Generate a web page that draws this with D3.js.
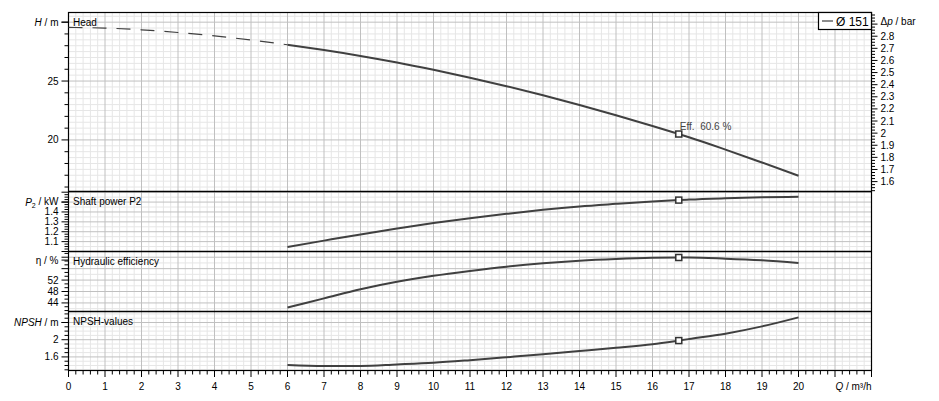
<!DOCTYPE html>
<html>
<head>
<meta charset="utf-8">
<script src="https://cdn.jsdelivr.net/npm/d3@7.9.0/dist/d3.min.js"></script>
<style>
  body { margin: 0; background: #fff; }
  svg { display: block; font-family: "Liberation Sans", Arial, sans-serif; }
  .pre { white-space: pre; }
</style>
</head>
<body>
<svg id="chart" width="939" height="401"></svg>
<script>
// duty point flow (m³/h)
const qDuty = 16.72;

// head curve below the operating range (dashed)
const flowExt = [0, 1, 2, 3, 4, 5, 6];
const headExt = [29.55, 29.5, 29.35, 29.12, 28.84, 28.48, 28.08];

// operating range
const flow  = [6, 7, 8, 9, 10, 11, 12, 13, 14, 15, 16, 16.72, 17, 18, 19, 20];
const head  = [28.08, 27.63, 27.13, 26.57, 25.95, 25.28, 24.56, 23.79, 22.97, 22.1, 21.18, 20.5, 20.23, 19.18, 18.08, 16.96];
const power = [1.046, 1.11, 1.173, 1.232, 1.288, 1.337, 1.381, 1.422, 1.456, 1.482, 1.506, 1.52, 1.525, 1.538, 1.548, 1.553];
const eff   = [42.4, 45.6, 48.8, 51.4, 53.5, 55.2, 56.7, 57.9, 58.8, 59.4, 59.8, 59.9, 59.9, 59.5, 58.9, 58.0];
const npsh  = [1.413, 1.39, 1.39, 1.425, 1.465, 1.525, 1.592, 1.661, 1.735, 1.811, 1.895, 1.98, 2.015, 2.14, 2.31, 2.52];

// tick labels
const qLabels     = [0, 1, 2, 3, 4, 5, 6, 7, 8, 9, 10, 11, 12, 13, 14, 15, 16, 17, 18, 19, 20];
const headLabels  = [20, 25];
const powerLabels = [1.1, 1.2, 1.3, 1.4];
const effLabels   = [44, 48, 52];
const npshLabels  = [1.6, 2];
const dpLabels    = [1.6, 1.7, 1.8, 1.9, 2, 2.1, 2.2, 2.3, 2.4, 2.5, 2.6, 2.7, 2.8];
const effNote = 'Eff.  60.6 %';
const legendText = 'Ø 151';
const barPerMetre = 0.0972;

const svg = d3.select('#chart');
const L = 68.5, R = 871.5;
const x = d3.scaleLinear().domain([0, 22]).range([L, R]);

const panels = [
  { title: 'Head', top: 12.5, bottom: 191.5, domain: [15.62, 30.82], gridStep: 0.5, majorStep: 5,
    tickStep: 1, majorTickStep: 5, labels: headLabels, unitAt: 30, unit: ['H', ' / m'] },
  { title: 'Shaft power P2', top: 191.5, bottom: 251.5, domain: [1.0, 1.607], gridStep: 0.05, majorStep: 0.1,
    tickStep: 0.025, majorTickStep: 0.1, labels: powerLabels, unitAt: 1.5, unit: ['P', ' / kW'], sub: '2' },
  { title: 'Hydraulic efficiency', top: 251.5, bottom: 311.5, domain: [41, 62], gridStep: 2, majorStep: 4,
    tickStep: 4 / 3, majorTickStep: 4, labels: effLabels, unitAt: 59, unit: ['η', ' / %'], plain: true },
  { title: 'NPSH-values', top: 311.5, bottom: 370.5, domain: [1.284, 2.656], gridStep: 0.1, majorStep: 0.4,
    tickStep: 0.1, majorTickStep: 0.4, labels: npshLabels, unitAt: 2.4, unit: ['NPSH', ' / m'] }
];
panels.forEach(p => { p.y = d3.scaleLinear().domain(p.domain).range([p.bottom, p.top]); });

function stepsIn(lo, hi, step, base) {
  const out = [];
  const k0 = Math.ceil((lo - base) / step - 1e-6), k1 = Math.floor((hi - base) / step + 1e-6);
  for (let k = k0; k <= k1; k++) out.push(+(base + k * step).toFixed(4));
  return out;
}
function isMajor(v, step, base) {
  const r = (v - base) / step;
  return Math.abs(r - Math.round(r)) < 1e-4;
}

const grid = svg.append('g');
const minorX = stepsIn(0, 22, 0.2, 0).filter(v => !isMajor(v, 1, 0));
const majorX = d3.range(0, 23);

panels.forEach(p => {
  const base = p.labels[0];
  const hv = stepsIn(p.domain[0], p.domain[1], p.gridStep, base);
  // minor grid
  grid.append('g').selectAll('line').data(minorX).join('line')
    .attr('x1', d => x(d)).attr('x2', d => x(d)).attr('y1', p.top).attr('y2', p.bottom)
    .attr('stroke', '#e6e6e6').attr('stroke-width', 1);
  grid.append('g').selectAll('line').data(hv.filter(v => !isMajor(v, p.majorStep, base))).join('line')
    .attr('x1', L).attr('x2', R).attr('y1', d => p.y(d)).attr('y2', d => p.y(d))
    .attr('stroke', '#e6e6e6').attr('stroke-width', 1);
  // major grid
  grid.append('g').selectAll('line').data(majorX).join('line')
    .attr('x1', d => x(d)).attr('x2', d => x(d)).attr('y1', p.top).attr('y2', p.bottom)
    .attr('stroke', '#c0c0c0').attr('stroke-width', 1);
  grid.append('g').selectAll('line').data(hv.filter(v => isMajor(v, p.majorStep, base))).join('line')
    .attr('x1', L).attr('x2', R).attr('y1', d => p.y(d)).attr('y2', d => p.y(d))
    .attr('stroke', '#c0c0c0').attr('stroke-width', 1);

  // left ticks
  const tv = stepsIn(p.domain[0], p.domain[1], p.tickStep, base);
  svg.append('g').selectAll('line').data(tv).join('line')
    .attr('x1', d => isMajor(d, p.majorTickStep, base) ? L - 7 : L - 4).attr('x2', L)
    .attr('y1', d => p.y(d)).attr('y2', d => p.y(d))
    .attr('stroke', '#000').attr('stroke-width', 1);
  svg.append('line').attr('x1', L - 7).attr('x2', L)
    .attr('y1', p.y(p.unitAt)).attr('y2', p.y(p.unitAt)).attr('stroke', '#000');

  svg.append('g').selectAll('text').data(p.labels).join('text')
    .attr('x', L - 10).attr('y', d => p.y(d)).attr('dy', '0.35em')
    .attr('text-anchor', 'end').attr('font-size', 10).text(d => d);

  const ut = svg.append('text').attr('x', L - 10).attr('y', p.y(p.unitAt)).attr('dy', '0.35em')
    .attr('text-anchor', 'end').attr('font-size', 10);
  ut.append('tspan').attr('font-style', p.plain ? 'normal' : 'italic').text(p.unit[0]);
  if (p.sub) ut.append('tspan').attr('font-size', 7).attr('dy', '0.3em').text(p.sub);
  ut.append('tspan').attr('dy', p.sub ? '-0.3em' : null).text(p.unit[1]);

  svg.append('text').attr('x', 73).attr('y', p.top + 13.7)
    .attr('font-size', 10).text(p.title);
});

// frame and panel separators
svg.append('rect').attr('x', L).attr('y', 12.5).attr('width', R - L).attr('height', 370.5 - 12.5)
  .attr('fill', 'none').attr('stroke', '#000').attr('stroke-width', 1.2);
panels.slice(1).forEach(p => {
  svg.append('line').attr('x1', L).attr('x2', R).attr('y1', p.top).attr('y2', p.top)
    .attr('stroke', '#000').attr('stroke-width', 1.4);
});

// bottom axis
const xTicks = stepsIn(0, 22, 0.2, 0);
svg.append('g').selectAll('line').data(xTicks).join('line')
  .attr('x1', d => x(d)).attr('x2', d => x(d)).attr('y1', 370.5)
  .attr('y2', d => isMajor(d, 1, 0) ? 377 : 374.5)
  .attr('stroke', '#000');
svg.append('g').selectAll('text').data(qLabels).join('text')
  .attr('x', d => x(d)).attr('y', 390).attr('text-anchor', 'middle')
  .attr('font-size', 10).text(d => d);
const qt = svg.append('text').attr('x', R).attr('y', 390).attr('text-anchor', 'end').attr('font-size', 10);
qt.append('tspan').attr('font-style', 'italic').text('Q');
qt.append('tspan').text(' / m³/h');

// right axis (pressure difference)
const hp = panels[0];
const dpY = v => hp.y(v / barPerMetre);
const dpTicks = stepsIn(hp.domain[0] * barPerMetre, hp.domain[1] * barPerMetre, 0.025, 1.6);
svg.append('g').selectAll('line').data(dpTicks).join('line')
  .attr('x1', R).attr('x2', d => isMajor(d, 0.1, 1.6) ? R + 6 : R + 3.5)
  .attr('y1', d => dpY(d)).attr('y2', d => dpY(d)).attr('stroke', '#000');
svg.append('g').selectAll('text').data(dpLabels).join('text')
  .attr('x', R + 9).attr('y', d => dpY(d)).attr('dy', '0.35em')
  .attr('font-size', 10).text(d => d);
const dt = svg.append('text').attr('x', R + 9).attr('y', 21).attr('dy', '0.35em').attr('font-size', 10);
dt.append('tspan').text('Δ');
dt.append('tspan').attr('font-style', 'italic').text('p');
dt.append('tspan').text(' / bar');

// curves
const curveColor = '#404040';
const series = [
  { p: panels[0], v: head },
  { p: panels[1], v: power },
  { p: panels[2], v: eff },
  { p: panels[3], v: npsh }
];
svg.append('path')
  .attr('d', d3.line().x((d, i) => x(flowExt[i])).y(d => hp.y(d)).curve(d3.curveMonotoneX)(headExt))
  .attr('fill', 'none').attr('stroke', curveColor).attr('stroke-width', 1.2)
  .attr('stroke-dasharray', '14,10');

const di = flow.indexOf(qDuty);
series.forEach(s => {
  svg.append('path')
    .attr('d', d3.line().x((d, i) => x(flow[i])).y(d => s.p.y(d)).curve(d3.curveMonotoneX)(s.v))
    .attr('fill', 'none').attr('stroke', curveColor).attr('stroke-width', 2);
  svg.append('rect')
    .attr('x', x(qDuty) - 3).attr('y', s.p.y(s.v[di]) - 3).attr('width', 6).attr('height', 6)
    .attr('fill', '#fff').attr('stroke', '#333').attr('stroke-width', 1.5);
});

svg.append('text').attr('class', 'pre')
  .attr('x', x(qDuty) + 1).attr('y', hp.y(head[di]) - 4)
  .attr('font-size', 10).attr('fill', '#444').text(effNote);

// legend
const lg = svg.append('g');
lg.append('rect').attr('x', 818.5).attr('y', 12.5).attr('width', R - 818.5).attr('height', 17)
  .attr('fill', '#fff').attr('stroke', '#000').attr('stroke-width', 1.2);
lg.append('line').attr('x1', 822).attr('x2', 833).attr('y1', 21).attr('y2', 21)
  .attr('stroke', curveColor).attr('stroke-width', 1.2);
lg.append('text').attr('x', 836).attr('y', 25.5).attr('font-size', 12).text(legendText);
</script>
</body>
</html>
